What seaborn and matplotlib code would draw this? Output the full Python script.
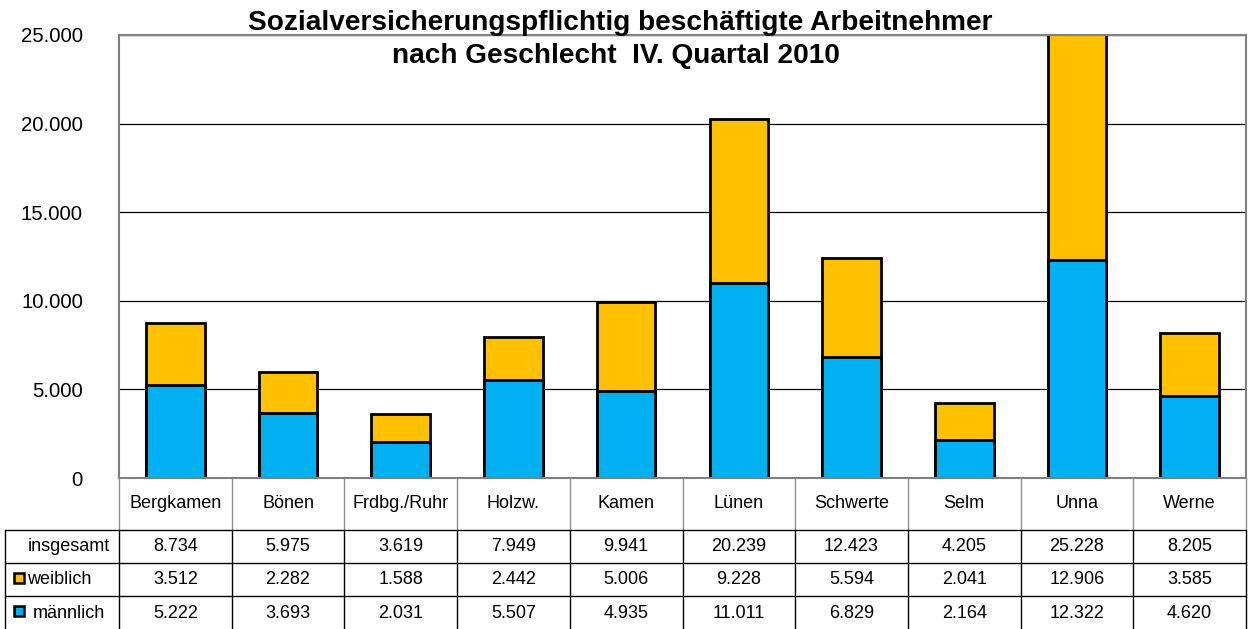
import matplotlib
matplotlib.use("Agg")
import matplotlib.pyplot as plt
from matplotlib.patches import Rectangle
from matplotlib.ticker import FuncFormatter, MultipleLocator
import seaborn as sns
import pandas as pd

# Daten: sozialversicherungspflichtig Beschaeftigte, IV. Quartal 2010
staedte = ["Bergkamen", "Bönen", "Frdbg./Ruhr", "Holzw.", "Kamen",
           "Lünen", "Schwerte", "Selm", "Unna", "Werne"]
insgesamt = [8734, 5975, 3619, 7949, 9941, 20239, 12423, 4205, 25228, 8205]
weiblich = [3512, 2282, 1588, 2442, 5006, 9228, 5594, 2041, 12906, 3585]
maennlich = [5222, 3693, 2031, 5507, 4935, 11011, 6829, 2164, 12322, 4620]

df = pd.DataFrame({"Stadt": staedte, "insgesamt": insgesamt,
                   "weiblich": weiblich, "männlich": maennlich})

ORANGE = "#FFC000"
BLAU = "#00B0F0"


def de(x):
    # deutsche Tausendertrennung
    return f"{x:,.0f}".replace(",", ".")


sns.set_style("white")
plt.rcParams["font.family"] = ["Liberation Sans", "DejaVu Sans"]
plt.rcParams["text.color"] = "black"
plt.rcParams["ytick.labelcolor"] = "black"

W, H = 1250, 629
fig = plt.figure(figsize=(W / 100, H / 100), dpi=100)
left, right, top, bottom = 119, 1246, 35, 478
ax = fig.add_axes([left / W, 1 - bottom / H, (right - left) / W, (bottom - top) / H])

# gestapelt: Gesamtbalken orange, maennlich blau darueber
sns.barplot(data=df, x="Stadt", y="insgesamt", color=ORANGE, saturation=1,
            width=0.52, edgecolor="black", linewidth=2, errorbar=None, ax=ax)
sns.barplot(data=df, x="Stadt", y="männlich", color=BLAU, saturation=1,
            width=0.52, edgecolor="black", linewidth=2, errorbar=None, ax=ax)

ax.set_xlim(-0.5, len(staedte) - 0.5)
ax.set_ylim(0, 25000)
ax.yaxis.set_major_locator(MultipleLocator(5000))
ax.yaxis.set_major_formatter(FuncFormatter(lambda v, p: de(v)))
ax.yaxis.grid(True, color="black", linewidth=0.9)
ax.set_axisbelow(True)
ax.set_xticks([])
ax.set_xlabel("")
ax.set_ylabel("")
ax.tick_params(axis="y", length=0, pad=26, labelsize=14.7, labelcolor="black")
for s in ax.spines.values():
    s.set_color("#808080")
    s.set_linewidth(1.5)

# Datentabelle und Titel (Pixelkoordinaten)
tab = fig.add_axes([0, 0, 1, 1], facecolor="none")
tab.set_xlim(0, W)
tab.set_ylim(H, 0)
tab.axis("off")

tab.text(620, 30, "Sozialversicherungspflichtig beschäftigte Arbeitnehmer",
         ha="center", va="baseline", fontsize=20.2, fontweight="bold")
tab.text(616, 63, "nach Geschlecht  IV. Quartal 2010",
         ha="center", va="baseline", fontsize=20.2, fontweight="bold")

n = len(staedte)
cw = (right - left) / n
edges = [left + k * cw for k in range(n + 1)]
y_head, y_r1, y_r2, y_r3 = 530, 563, 596, 629

for x in edges:
    tab.plot([x, x], [bottom, y_head], color="#909090", lw=1)
    tab.plot([x, x], [y_head, y_r3], color="black", lw=1)
tab.plot([5, 5], [y_head, y_r3], color="black", lw=1)
for y in (y_head, y_r1, y_r2):
    tab.plot([5, right], [y, y], color="black", lw=1)

fs = 13
for i, name in enumerate(staedte):
    cx = left + (i + 0.5) * cw
    tab.text(cx, 503, name, ha="center", va="center", fontsize=fs)
    tab.text(cx, 546.5, de(insgesamt[i]), ha="center", va="center", fontsize=fs)
    tab.text(cx, 580, de(weiblich[i]), ha="center", va="center", fontsize=fs)
    tab.text(cx, 613, de(maennlich[i]), ha="center", va="center", fontsize=fs)

tab.text(28, 546.5, "insgesamt", ha="left", va="center", fontsize=fs)
tab.text(27, 580, "weiblich", ha="left", va="center", fontsize=fs)
tab.text(33, 613, "männlich", ha="left", va="center", fontsize=fs)
for yc, col in ((578, ORANGE), (611, BLAU)):
    tab.add_patch(Rectangle((14, yc - 5), 10, 10, facecolor=col,
                            edgecolor="black", lw=1.8))

fig.savefig("out.png", dpi=100)
